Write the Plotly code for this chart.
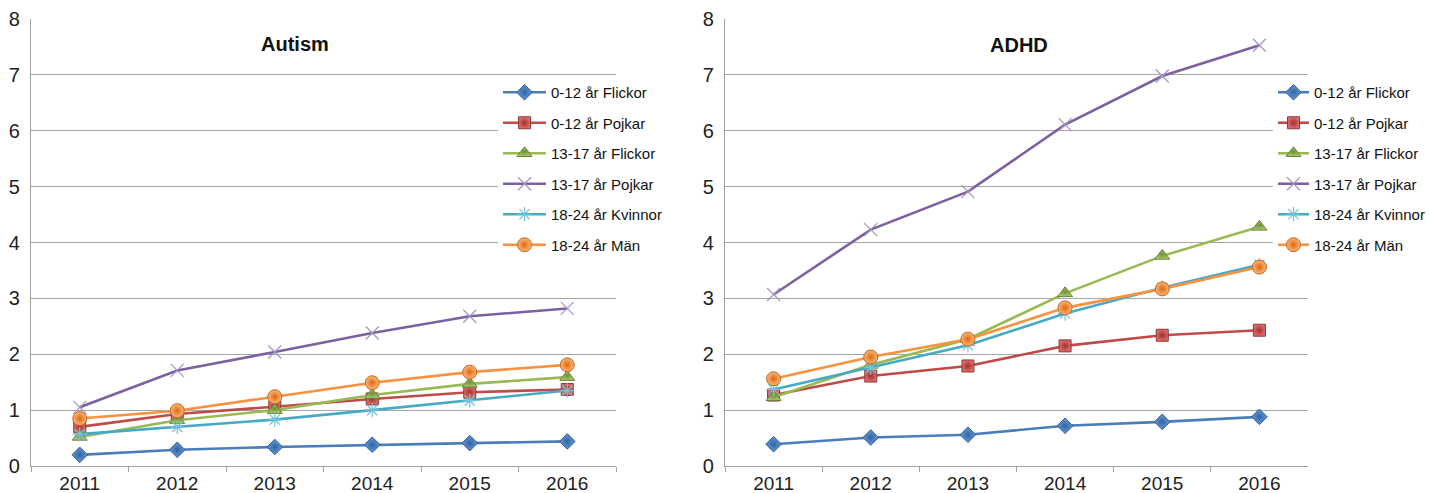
import plotly.graph_objects as go

years = ["2011", "2012", "2013", "2014", "2015", "2016"]
series_names = ["0-12 år Flickor", "0-12 år Pojkar", "13-17 år Flickor",
                "13-17 år Pojkar", "18-24 år Kvinnor", "18-24 år Män"]

# Autism
aut_flickor_0_12 = [0.20, 0.29, 0.34, 0.38, 0.41, 0.44]
aut_pojkar_0_12 = [0.70, 0.93, 1.06, 1.20, 1.32, 1.37]
aut_flickor_13_17 = [0.52, 0.82, 1.00, 1.27, 1.47, 1.59]
aut_pojkar_13_17 = [1.05, 1.71, 2.04, 2.38, 2.68, 2.82]
aut_kvinnor_18_24 = [0.57, 0.70, 0.83, 1.00, 1.17, 1.35]
aut_man_18_24 = [0.85, 0.99, 1.24, 1.49, 1.68, 1.81]

# ADHD
adhd_flickor_0_12 = [0.39, 0.51, 0.56, 0.72, 0.79, 0.88]
adhd_pojkar_0_12 = [1.27, 1.61, 1.79, 2.15, 2.34, 2.43]
adhd_flickor_13_17 = [1.23, 1.81, 2.27, 3.09, 3.76, 4.28]
adhd_pojkar_13_17 = [3.07, 4.23, 4.91, 6.11, 6.98, 7.53]
adhd_kvinnor_18_24 = [1.37, 1.76, 2.16, 2.73, 3.19, 3.60]
adhd_man_18_24 = [1.56, 1.95, 2.27, 2.83, 3.17, 3.56]

y_ticks = [0, 1, 2, 3, 4, 5, 6, 7, 8]

autism = [aut_flickor_0_12, aut_pojkar_0_12, aut_flickor_13_17,
          aut_pojkar_13_17, aut_kvinnor_18_24, aut_man_18_24]
adhd = [adhd_flickor_0_12, adhd_pojkar_0_12, adhd_flickor_13_17,
        adhd_pojkar_13_17, adhd_kvinnor_18_24, adhd_man_18_24]

line_colors = ["#4A7EBB", "#BE4B48", "#98B954", "#7D60A0", "#46AAC5", "#F69240"]
styles = [
    dict(symbol="diamond", size=12, color="#6A9AD6", line=dict(color="#2F5D94", width=1),
         gradient=dict(type="radial", color="#2F64A3")),
    dict(symbol="square", size=12, color="#DA6E6B", line=dict(color="#8C3836", width=1),
         gradient=dict(type="radial", color="#A3302D")),
    dict(symbol="triangle-up", size=13, color="#A9C96C", line=dict(color="#6A833A", width=1),
         gradient=dict(type="radial", color="#6E8E33")),
    dict(symbol="x-thin-open", size=13, color="#A394C4", line=dict(color="#A394C4", width=1.2)),
    dict(symbol="asterisk-open", size=12, color="#74C2D8", line=dict(color="#74C2D8", width=1.2)),
    dict(symbol="circle", size=14, color="#FBB77E", line=dict(color="#C0671E", width=1),
         gradient=dict(type="radial", color="#E0680C")),
]

fig = go.Figure()

for panel, (data, xa, ya, leg) in enumerate([(autism, "x", "y", "legend"),
                                             (adhd, "x2", "y2", "legend2")]):
    for i, name in enumerate(series_names):
        fig.add_trace(go.Scatter(
            x=years, y=data[i], name=name, mode="lines+markers",
            xaxis=xa, yaxis=ya, legend=leg,
            legendgroup=f"{leg}_{i}",
            line=dict(color=line_colors[i], width=2.6),
            marker=styles[i],
            cliponaxis=False,
        ))

font_family = "Liberation Sans, Arial, sans-serif"
y_dom = [27 / 493, 474 / 493]

def xaxis(dom, anchor):
    return dict(domain=dom, anchor=anchor, type="category", range=[-0.5, 5.5],
                tickson="boundaries", ticks="outside", ticklen=5, tickwidth=1.2,
                tickcolor="#A0A0A0", showline=True, linecolor="#A0A0A0", linewidth=1.3,
                showgrid=False, tickfont=dict(size=19, color="#222222", family=font_family),
                fixedrange=True)

def yaxis(anchor):
    return dict(domain=y_dom, anchor=anchor, range=[0, 8], tickvals=y_ticks,
                showgrid=True, gridcolor="#A6A6A6", gridwidth=1.3, zeroline=False,
                showline=True, linecolor="#A0A0A0", linewidth=1.3, ticks="",
                ticklabelstandoff=6,
                tickfont=dict(size=20, color="#222222", family=font_family),
                fixedrange=True)

legend_common = dict(bgcolor="white", borderwidth=0, xanchor="left", yanchor="top",
                     font=dict(size=15, color="#111111", family=font_family),
                     tracegroupgap=8, itemclick=False, itemdoubleclick=False)

fig.update_layout(
    width=1429, height=493,
    margin=dict(l=0, r=0, t=0, b=0, autoexpand=False),
    paper_bgcolor="white", plot_bgcolor="white",
    font=dict(family=font_family, color="#222222"),
    xaxis=xaxis([31 / 1429, 616 / 1429], "y"),
    yaxis=yaxis("x"),
    xaxis2=xaxis([725 / 1429, 1308 / 1429], "y2"),
    yaxis2=yaxis("x2"),
    legend=dict(x=498 / 1429, y=(493 - 76) / 493, itemwidth=43, **legend_common),
    legend2=dict(x=1273 / 1429, y=(493 - 76) / 493, itemwidth=31, **legend_common),
    annotations=[
        dict(text="<b>Autism</b>", x=295 / 1429, y=(493 - 44) / 493, xref="paper", yref="paper",
             showarrow=False, xanchor="center", yanchor="middle",
             font=dict(size=20, color="#111111", family=font_family)),
        dict(text="<b>ADHD</b>", x=1019 / 1429, y=(493 - 45) / 493, xref="paper", yref="paper",
             showarrow=False, xanchor="center", yanchor="middle",
             font=dict(size=20, color="#111111", family=font_family)),
    ],
    showlegend=True,
)

fig.write_html(
    "out.html",
    config={"displayModeBar": False, "staticPlot": False},
    post_script="document.body.style.margin='0';document.body.style.overflow='hidden';",
)
